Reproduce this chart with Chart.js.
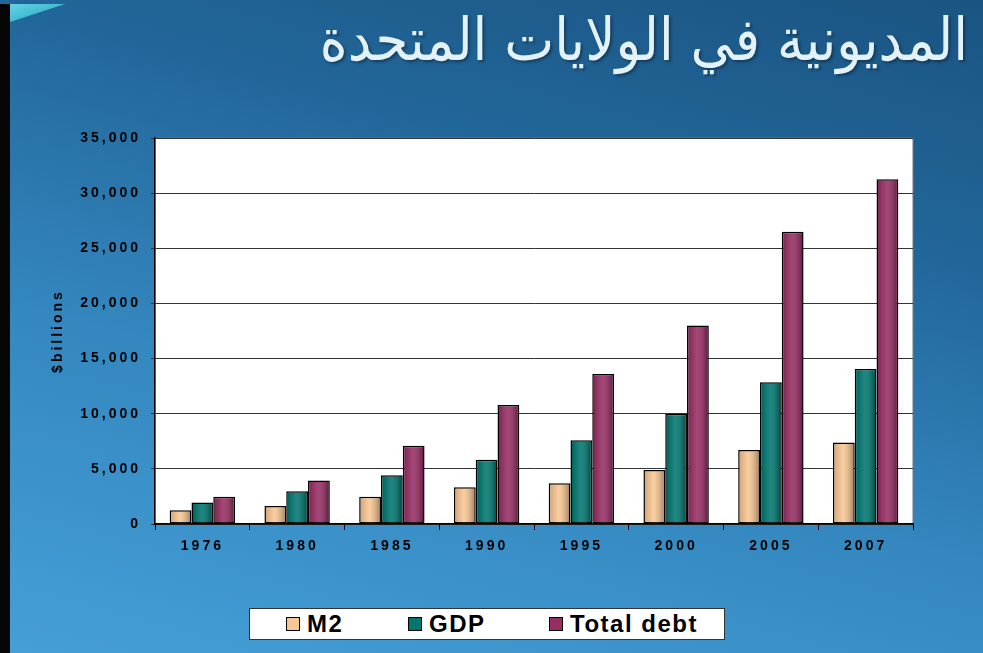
<!DOCTYPE html>
<html>
<head>
<meta charset="utf-8">
<script src="https://cdn.jsdelivr.net/npm/chart.js@4.4.1/dist/chart.umd.min.js"></script>
<style>
  html, body { margin: 0; padding: 0; }
  body {
    width: 983px; height: 653px; overflow: hidden; position: relative;
    background: linear-gradient(195deg, #1a5482 0%, #22679a 30%, #3487bf 62%, #45a0d7 100%);
  }
  #edge { position: absolute; left: 0; top: 4px; bottom: 0; width: 10px; background: #050505; }
  #swoosh {
    position: absolute; left: 10px; top: 0; width: 55px; height: 22px;
    background: linear-gradient(160deg, #6fd6e6, #1aa7c2);
    clip-path: polygon(0 18%, 100% 18%, 0 100%);
  }
  #title {
    position: absolute; right: 15px; top: 5px; direction: rtl;
    font-family: "DejaVu Sans Condensed", "DejaVu Sans", sans-serif;
    font-size: 59px; color: #e3f1f8;
    text-shadow: 2px 2px 3px rgba(0, 0, 0, 0.35);
  }
  canvas { position: absolute; left: 0; top: 0; }
  #legend {
    position: absolute; left: 249px; top: 608px; width: 474px; height: 30px;
    background: #fff; border: 1px solid #333;
  }
  .item { position: absolute; top: 0; height: 30px; display: flex; align-items: center; }
  .swatch { width: 12px; height: 12px; border: 1.5px solid #000; margin-right: 7px; }
  .label {
    font-family: "Liberation Sans", Arial, sans-serif; font-weight: bold;
    font-size: 24px; letter-spacing: 1.5px; color: #000;
  }
</style>
</head>
<body>
<div id="edge"></div>
<div id="swoosh"></div>
<div id="title">المديونية في الولايات المتحدة</div>
<canvas id="debtChart" width="983" height="653"></canvas>
<div id="legend"></div>

<script>
const years = ['1976', '1980', '1985', '1990', '1995', '2000', '2005', '2007'];
const m2 = [1250, 1640, 2480, 3330, 3700, 4900, 6700, 7400];
const gdp = [1940, 2970, 4420, 5820, 7600, 10000, 12850, 14060];
const totalDebt = [2480, 3940, 7090, 10790, 13600, 18000, 26500, 31270];
const yMax = 35000;
const yStep = 5000;

const tickFont = { family: 'Liberation Sans, Arial, sans-serif', size: 14, weight: 'bold' };

// white plot area + wide letter spacing like the slide
const plotBackground = {
    id: 'plotBackground',
    beforeUpdate(chart) { chart.ctx.letterSpacing = '3px'; },
    beforeDraw(chart) {
        const { ctx, chartArea: a } = chart;
        ctx.letterSpacing = '3px';
        ctx.save();
        ctx.fillStyle = '#fff';
        ctx.fillRect(a.left, a.top, a.width, a.height);
        ctx.strokeStyle = '#777';
        ctx.lineWidth = 1;
        ctx.strokeRect(a.left, a.top, a.width, a.height);
        ctx.restore();
    }
};

// soft cylinder shading on each bar
const barShade = {
    id: 'barShade',
    afterDatasetsDraw(chart) {
        const ctx = chart.ctx;
        ctx.save();
        chart.data.datasets.forEach((ds, i) => {
            chart.getDatasetMeta(i).data.forEach(bar => {
                const { x, y, base, width } = bar.getProps(['x', 'y', 'base', 'width'], true);
                const l = x - width / 2 + 1.5;
                const r = x + width / 2 - 1.5;
                const g = ctx.createLinearGradient(l, 0, r, 0);
                g.addColorStop(0, 'rgba(0,0,0,0.15)');
                g.addColorStop(0.45, 'rgba(255,255,255,0.12)');
                g.addColorStop(1, 'rgba(0,0,0,0.3)');
                ctx.fillStyle = g;
                ctx.fillRect(l, y + 1.5, r - l, base - y - 1.5);
            });
        });
        ctx.restore();
    }
};

const chart = new Chart(document.getElementById('debtChart'), {
    type: 'bar',
    data: {
        labels: years,
        datasets: [
            { label: 'M2', data: m2, backgroundColor: '#f8c692' },
            { label: 'GDP', data: gdp, backgroundColor: '#00766f' },
            { label: 'Total debt', data: totalDebt, backgroundColor: '#962d63' }
        ]
    },
    options: {
        responsive: false,
        animation: false,
        layout: { padding: { top: 138, right: 70, left: 0, bottom: 0 } },
        datasets: {
            bar: {
                categoryPercentage: 0.69,
                barPercentage: 1.0,
                borderColor: '#000',
                borderWidth: 1.5,
                borderSkipped: false
            }
        },
        plugins: {
            legend: { display: false },
            tooltip: { enabled: false }
        },
        scales: {
            x: {
                grid: { offset: true, drawOnChartArea: false, color: '#000', tickLength: 6 },
                border: { color: '#000', width: 1.5 },
                ticks: { color: '#000', font: tickFont, padding: 8, maxRotation: 0 },
                afterFit(s) { s.height = 129; }
            },
            y: {
                min: 0,
                max: yMax,
                ticks: {
                    stepSize: yStep,
                    color: '#000',
                    font: tickFont,
                    padding: 10,
                    callback: v => v.toLocaleString('en-US')
                },
                grid: { color: '#333', tickLength: 4 },
                border: { color: '#000', width: 1.5 },
                title: {
                    display: true,
                    text: '$billions',
                    color: '#000',
                    font: { family: 'Liberation Sans, Arial, sans-serif', size: 14, weight: 'bold' },
                    padding: { top: 50 }
                },
                afterFit(s) { s.width = 155; }
            }
        }
    },
    plugins: [plotBackground, barShade]
});

// legend box below the chart, built from the datasets
const legendBox = document.getElementById('legend');
const itemLeft = [36, 158, 299];
chart.data.datasets.forEach((ds, i) => {
    const item = document.createElement('div');
    item.className = 'item';
    item.style.left = itemLeft[i] + 'px';
    const sw = document.createElement('span');
    sw.className = 'swatch';
    sw.style.background = ds.backgroundColor;
    const tx = document.createElement('span');
    tx.className = 'label';
    tx.textContent = ds.label;
    item.appendChild(sw);
    item.appendChild(tx);
    legendBox.appendChild(item);
});
</script>
</body>
</html>
